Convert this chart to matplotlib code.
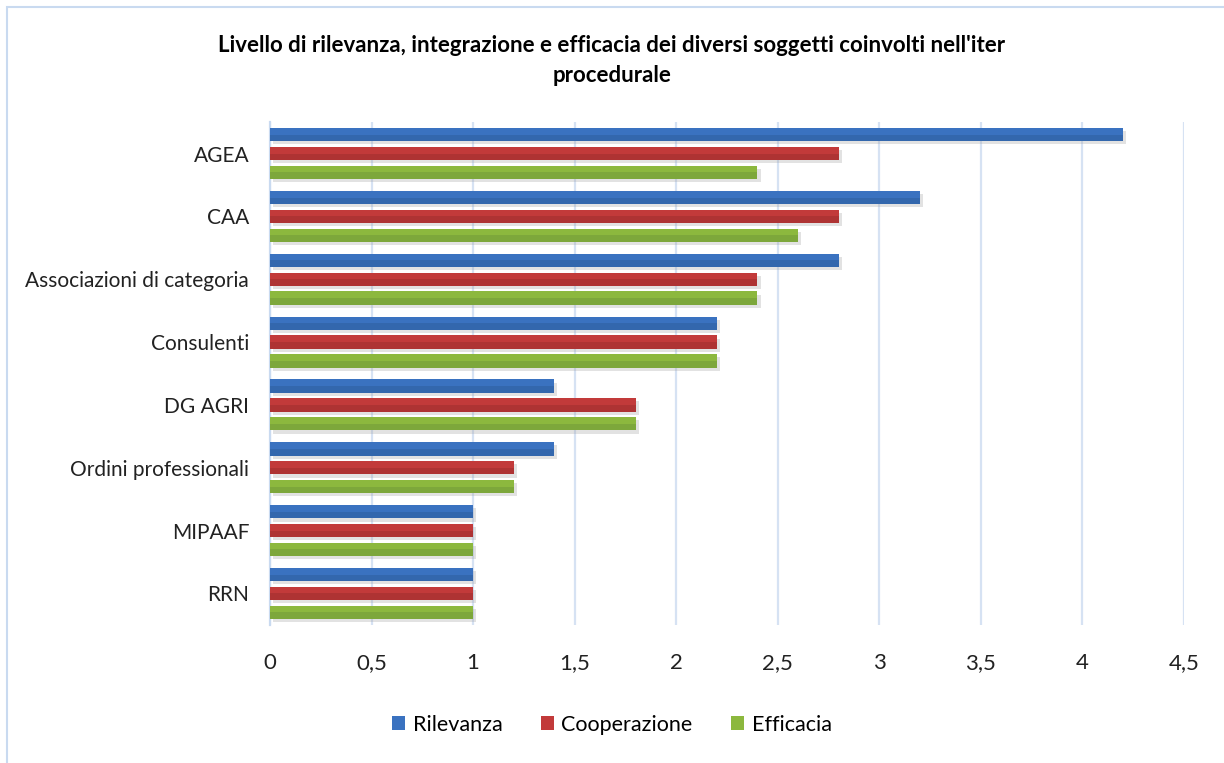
import numpy as np
import matplotlib.pyplot as plt
from matplotlib.patches import Rectangle
from matplotlib.ticker import FuncFormatter, MultipleLocator

# ===== DATI =====
soggetti = ['AGEA', 'CAA', 'Associazioni di categoria', 'Consulenti',
            'DG AGRI', 'Ordini professionali', 'MIPAAF', 'RRN']
rilevanza = [4.2, 3.2, 2.8, 2.2, 1.4, 1.4, 1.0, 1.0]
cooperazione = [2.8, 2.8, 2.4, 2.2, 1.8, 1.2, 1.0, 1.0]
efficacia = [2.4, 2.6, 2.4, 2.2, 1.8, 1.2, 1.0, 1.0]

serie = ['Rilevanza', 'Cooperazione', 'Efficacia']
colori = ['#3A72C0', '#C23A3A', '#8CB83E']
scuri = ['#2F5F9E', '#9E2E2E', '#72993A']

plt.rcParams['font.family'] = ['Lato', 'DejaVu Sans']

fig = plt.figure(figsize=(12.24, 7.63), dpi=100)
ax = fig.add_axes([0.2206, 0.181, 0.7467, 0.659])

# bordo del riquadro
fig.patches.append(Rectangle((7 / 1224, -0.1), 1.2, 1 - 7 / 763 + 0.1,
                             transform=fig.transFigure, fill=False,
                             edgecolor='#C9DAF0', linewidth=1.5, zorder=0))

y = np.arange(len(soggetti))
h = 0.21
off = 0.30
for k, vals in enumerate([rilevanza, cooperazione, efficacia]):
    pos = y + (k - 1) * off
    # ombra
    ax.barh(pos + 0.05, vals, height=h, left=0.015, color='#9A9A9A', alpha=0.28,
            zorder=2, linewidth=0)
    # barra
    ax.barh(pos, vals, height=h, color=colori[k], zorder=3, linewidth=0,
            label=serie[k])
    # parte inferiore piu' scura
    ax.barh(pos + h / 4, vals, height=h / 2, color=scuri[k], alpha=0.55,
            zorder=4, linewidth=0)

ax.set_xlim(0, 4.5)
ax.set_ylim(7.5, -0.5)
ax.xaxis.set_major_locator(MultipleLocator(0.5))
ax.xaxis.set_major_formatter(FuncFormatter(lambda v, p: ('%g' % v).replace('.', ',')))
ax.set_yticks(y)
ax.set_yticklabels(soggetti)
ax.tick_params(axis='both', length=0, colors='#222222')
ax.tick_params(axis='x', pad=20, labelsize=16)
ax.tick_params(axis='y', pad=15, labelsize=15)
ax.grid(axis='x', color='#D6E2F3', linewidth=1.6, zorder=0)
ax.set_axisbelow(True)
for s in ['top', 'right', 'bottom']:
    ax.spines[s].set_visible(False)
ax.spines['left'].set_color('#C9DAF0')
ax.spines['left'].set_linewidth(1.6)

fig.text(0.5, 0.921, "Livello di rilevanza, integrazione e efficacia dei diversi soggetti coinvolti nell'iter\nprocedurale",
         ha='center', va='center', fontsize=16, fontweight='bold', linespacing=1.55)

handles, labels = ax.get_legend_handles_labels()
fig.legend(handles, labels, loc='center', bbox_to_anchor=(0.5, 0.05), ncol=3,
           frameon=False, fontsize=15.5, handlelength=0.6, handleheight=0.6,
           handletextpad=0.35, columnspacing=1.8)

plt.savefig('out.png', dpi=100)
